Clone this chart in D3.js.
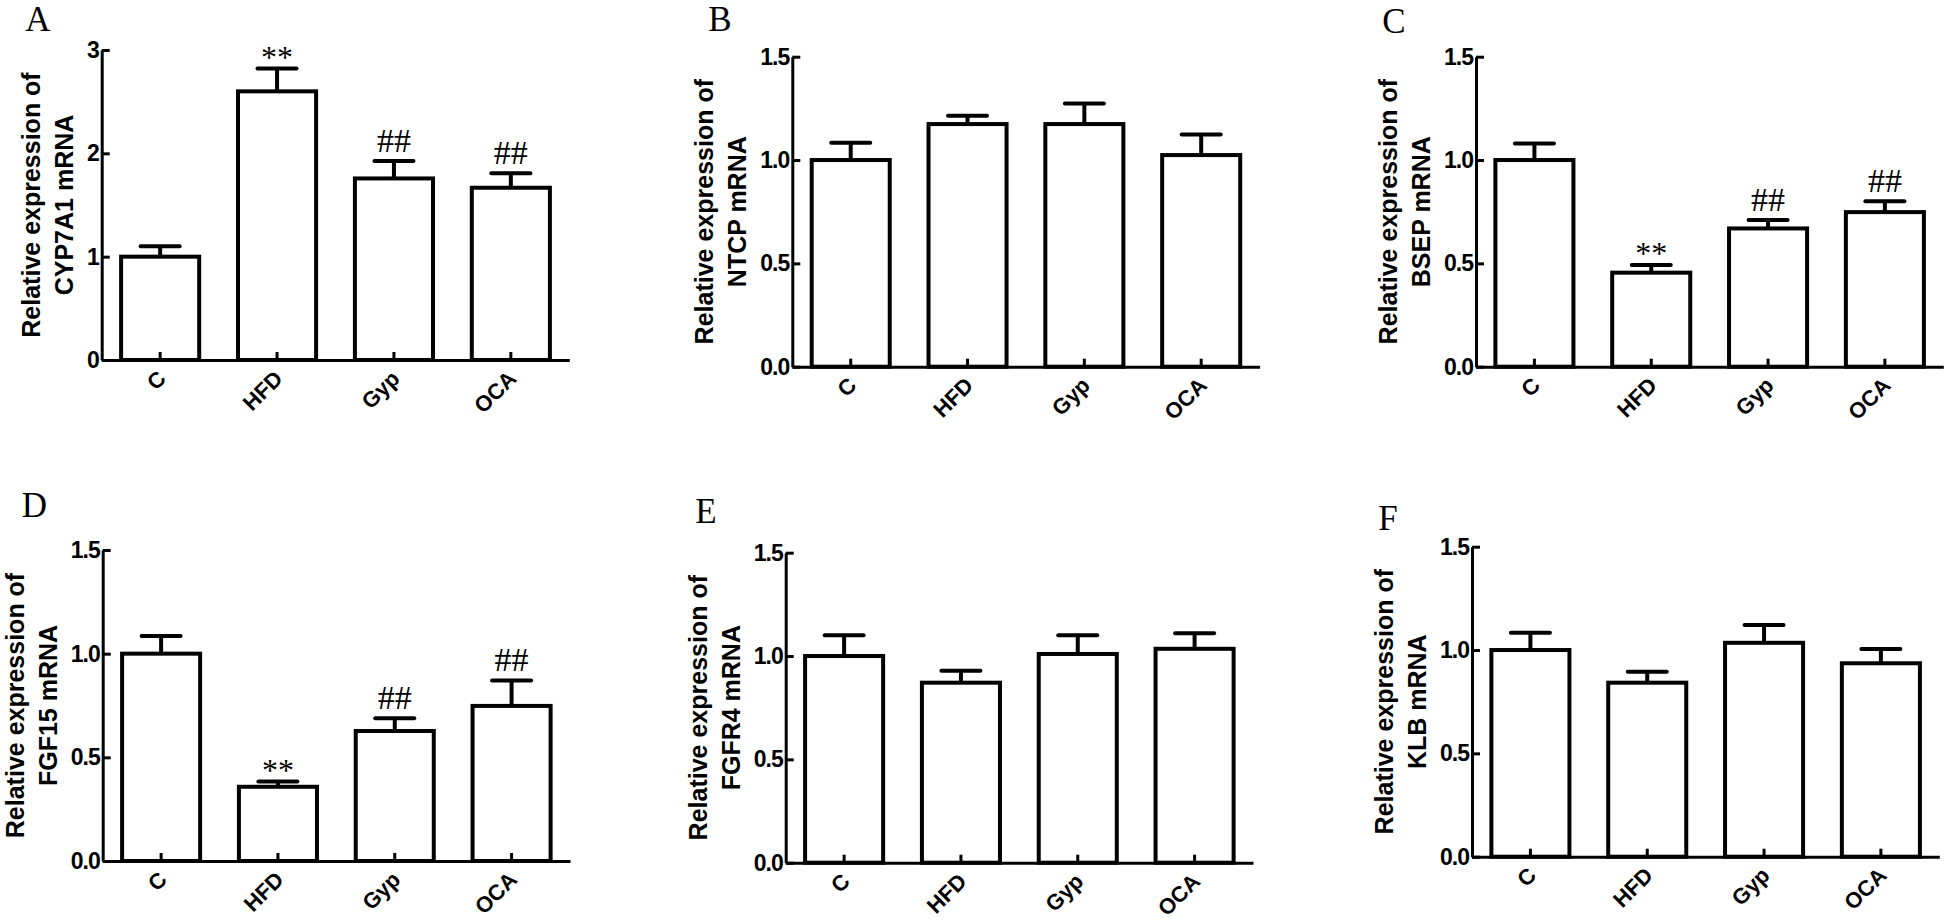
<!DOCTYPE html>
<html>
<head>
<meta charset="utf-8">
<script src="https://cdn.jsdelivr.net/npm/d3@7"></script>
<style>
  html, body { margin: 0; padding: 0; background: #fff; }
  svg { display: block; }
</style>
</head>
<body>
<svg id="chart" width="1946" height="922"></svg>
<script>
// ---------- data ----------
const groups = ["C", "HFD", "Gyp", "OCA"];

const genesA = "CYP7A1", meanA = [1.00, 2.60, 1.757, 1.667], semA = [0.10, 0.22, 0.17, 0.14], sigA = ["", "**", "##", "##"];
const genesB = "NTCP",   meanB = [1.00, 1.174, 1.174, 1.024], semB = [0.084, 0.04, 0.10, 0.10], sigB = ["", "", "", ""];
const genesC = "BSEP",   meanC = [1.00, 0.455, 0.669, 0.748], semC = [0.08, 0.037, 0.041, 0.052], sigC = ["", "**", "##", "##"];
const genesD = "FGF15",  meanD = [1.00, 0.358, 0.627, 0.748], semD = [0.085, 0.025, 0.061, 0.123], sigD = ["", "**", "##", "##"];
const genesE = "FGFR4",  meanE = [1.00, 0.871, 1.01, 1.035], semE = [0.10, 0.058, 0.09, 0.075], sigE = ["", "", "", ""];
const genesF = "KLB",    meanF = [1.00, 0.842, 1.035, 0.936], semF = [0.084, 0.053, 0.086, 0.069], sigF = ["", "", "", ""];

const ticksA = [0, 1, 2, 3];
const ticksOther = [0, 0.5, 1.0, 1.5];
const panelLetters = ["A", "B", "C", "D", "E", "F"];

// ---------- layout ----------
const layout = [
  { ax: 101.7, y0: 360.0, yTop: 50.0,  xEnd: 569.3,  lx: 38,   ly: 31 },
  { ax: 792.3, y0: 366.7, yTop: 56.7,  xEnd: 1259.6, lx: 720,  ly: 31 },
  { ax: 1476,  y0: 366.7, yTop: 56.7,  xEnd: 1943.3, lx: 1394, ly: 32.5 },
  { ax: 102.7, y0: 861.0, yTop: 550.0, xEnd: 570.0,  lx: 34.5, ly: 517 },
  { ax: 785.7, y0: 862.7, yTop: 552.7, xEnd: 1253.0, lx: 706,  ly: 523 },
  { ax: 1472,  y0: 856.7, yTop: 546.7, xEnd: 1939.3, lx: 1388, ly: 530 }
];

const panels = [
  { gene: genesA, mean: meanA, sem: semA, sig: sigA, max: 3,   ticks: ticksA, fmt: d3.format("d") },
  { gene: genesB, mean: meanB, sem: semB, sig: sigB, max: 1.5, ticks: ticksOther, fmt: d3.format(".1f") },
  { gene: genesC, mean: meanC, sem: semC, sig: sigC, max: 1.5, ticks: ticksOther, fmt: d3.format(".1f") },
  { gene: genesD, mean: meanD, sem: semD, sig: sigD, max: 1.5, ticks: ticksOther, fmt: d3.format(".1f") },
  { gene: genesE, mean: meanE, sem: semE, sig: sigE, max: 1.5, ticks: ticksOther, fmt: d3.format(".1f") },
  { gene: genesF, mean: meanF, sem: semF, sig: sigF, max: 1.5, ticks: ticksOther, fmt: d3.format(".1f") }
];

const SANS = "'Liberation Sans', Arial, Helvetica, sans-serif";
const SERIF = "'Liberation Serif', 'Times New Roman', Times, serif";

const svg = d3.select("#chart");

panels.forEach((p, i) => {
  const L = layout[i];
  const g = svg.append("g");

  const x = d3.scaleBand().domain(groups).range([L.ax, L.xEnd]).paddingInner(0).paddingOuter(0);
  const y = d3.scaleLinear().domain([0, p.max]).range([L.y0, L.yTop]);
  const barW = x.bandwidth() * 0.668;
  const capW = barW * 0.5;

  const data = groups.map((c, k) => ({ c, m: p.mean[k], s: p.sem[k], sig: p.sig[k] }));

  // error bars (upper only)
  g.selectAll(".err").data(data).enter().append("line")
    .attr("x1", d => x(d.c) + x.bandwidth() / 2).attr("x2", d => x(d.c) + x.bandwidth() / 2)
    .attr("y1", d => y(d.m)).attr("y2", d => y(d.m + d.s))
    .attr("stroke", "#000").attr("stroke-width", 4);
  g.selectAll(".cap").data(data).enter().append("line")
    .attr("x1", d => x(d.c) + x.bandwidth() / 2 - capW / 2).attr("x2", d => x(d.c) + x.bandwidth() / 2 + capW / 2)
    .attr("y1", d => y(d.m + d.s)).attr("y2", d => y(d.m + d.s))
    .attr("stroke", "#000").attr("stroke-width", 4).attr("stroke-linecap", "round");

  // bars
  g.selectAll(".bar").data(data).enter().append("rect")
    .attr("x", d => x(d.c) + (x.bandwidth() - barW) / 2)
    .attr("width", barW)
    .attr("y", d => y(d.m))
    .attr("height", d => y(0) - y(d.m))
    .attr("fill", "#fff").attr("stroke", "#000").attr("stroke-width", 4)
    .attr("stroke-linejoin", "miter");

  // significance markers
  g.selectAll(".sig").data(data.filter(d => d.sig)).enter().append("text")
    .attr("x", d => x(d.c) + x.bandwidth() / 2)
    .attr("y", d => y(d.m + d.s) - (d.sig === "**" ? 1 : 9))
    .attr("text-anchor", "middle")
    .style("font-family", SERIF).style("font-size", d => d.sig === "**" ? "32px" : "34px")
    .text(d => d.sig);

  // y axis
  const yAxis = d3.axisLeft(y).tickValues(p.ticks).tickFormat(p.fmt).tickSize(-8).tickSizeOuter(0).tickPadding(3);
  const ya = g.append("g").attr("transform", `translate(${L.ax},0)`).call(yAxis);
  ya.select(".domain").attr("stroke", "#000").attr("stroke-width", 3);
  ya.selectAll(".tick line").attr("stroke", "#000").attr("stroke-width", 3);
  ya.selectAll(".tick text").attr("fill", "#000")
    .style("font-family", SANS).style("font-size", "23px").style("font-weight", "bold")
    .style("letter-spacing", "-1px");

  // x axis
  const xa = g.append("g").attr("transform", `translate(0,${L.y0})`)
    .call(d3.axisBottom(x).tickSize(-8).tickSizeOuter(0).tickFormat(""));
  xa.select(".domain").attr("stroke", "#000").attr("stroke-width", 3);
  xa.selectAll(".tick line").attr("stroke", "#000").attr("stroke-width", 3);

  // rotated category labels
  g.selectAll(".xl").data(groups).enter().append("text")
    .attr("transform", d => `translate(${x(d) + x.bandwidth() / 2 + 7},${L.y0 + 20}) rotate(-45)`)
    .attr("text-anchor", "end")
    .style("font-family", SANS).style("font-size", "22px").style("font-weight", "bold")
    .text(d => d);

  // y title (two lines)
  let minX = Infinity;
  ya.selectAll(".tick text").each(function () {
    const b = this.getBBox();
    minX = Math.min(minX, L.ax + b.x);
  });
  const yc = (L.y0 + L.yTop) / 2;
  const line2 = minX - 14;
  const line1 = line2 - 33;
  [[line1, "Relative expression of"], [line2, p.gene + " mRNA"]].forEach(([bx, t]) => {
    g.append("text")
      .attr("transform", `translate(${bx},${yc}) rotate(-90)`)
      .attr("text-anchor", "middle")
      .style("font-family", SANS).style("font-size", "25px").style("font-weight", "bold")
      .text(t);
  });

  // panel letter
  svg.append("text")
    .attr("x", L.lx).attr("y", L.ly)
    .attr("text-anchor", "middle")
    .style("font-family", SERIF).style("font-size", "35px")
    .text(panelLetters[i]);
});
</script>
</body>
</html>
